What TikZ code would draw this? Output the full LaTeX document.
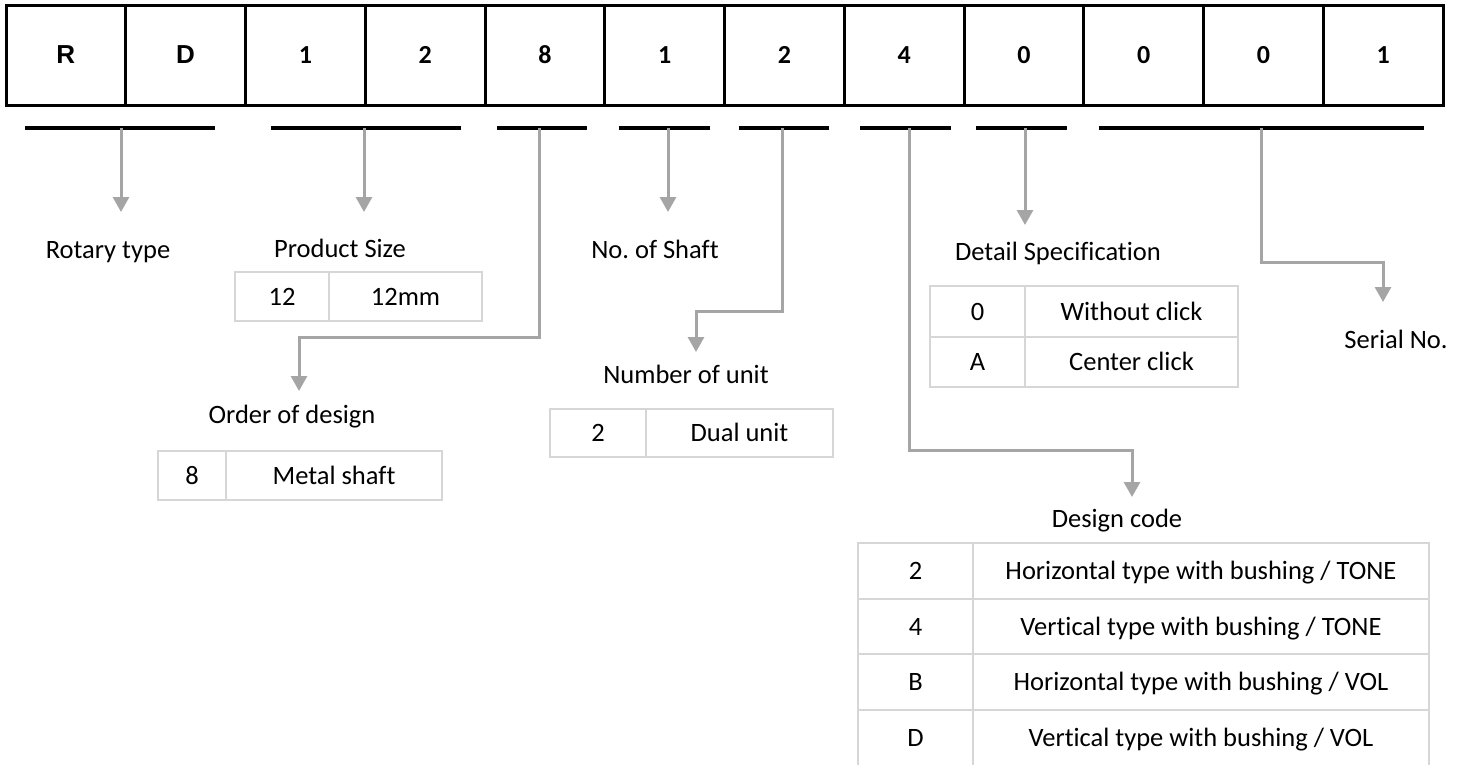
\documentclass[tikz,border=0pt]{standalone}
\usepackage{fontspec}
\setmainfont{Carlito}[Ligatures=NoCommon]
\newfontfamily\arialf{Liberation Sans}
\usetikzlibrary{arrows.meta}
\frenchspacing
\definecolor{conngray}{HTML}{A5A5A5}
\definecolor{tabgray}{HTML}{D6D6D6}
\tikzset{
  codecell/.style={draw=black, line width=3pt, minimum width=119.75pt, minimum height=100pt, inner sep=0pt, font=\fontsize{26}{30}\selectfont\bfseries},
  bar/.style={line width=4pt, black},
  conn/.style={draw=conngray, line width=3pt, -{Triangle[width=16pt,length=15pt]}},
  lbl/.style={anchor=base, inner sep=0pt, font=\fontsize{26.5}{31}\selectfont},
  tab/.style={draw=tabgray, line width=1.5pt},
  tcell/.style={anchor=center, inner sep=0pt, text height=17pt, text depth=0pt, font=\fontsize{26.5}{31}\selectfont},
}
\begin{document}
\begin{tikzpicture}[x=1pt,y=-1pt]
\useasboundingbox (0,0) rectangle (1460,764);
\fill[white] (0,0) rectangle (1460,764);

% code cells
\foreach \t [count=\i] in {{\arialf R},{\arialf D},1,2,8,1,2,4,0,0,0,1} {
  \node[codecell] (c\i) at ({6+119.75*(\i-0.5)},55) {\t};
}

% bars and stem points
\foreach \xa/\xb/\xs [count=\i] in {25/215/121, 271/461/364, 497/587/539, 619/710/668, 739/829/782, 860/951/909, 976/1067/1025, 1099/1424/1261} {
  \coordinate (bl\i) at (\xa,128);
  \coordinate (br\i) at (\xb,128);
  \coordinate (s\i) at (\xs,128);
  \draw[bar] (bl\i) -- (br\i);
}

% connector targets and corners
\coordinate (t1) at (121,212);
\coordinate (t2) at (364,212);
\coordinate (k3) at (299,337);
\coordinate (t3) at (299,391);
\coordinate (t4) at (668,212);
\coordinate (k5) at (696,311);
\coordinate (t5) at (696,352);
\coordinate (k6) at (1132,450);
\coordinate (t6) at (1132,497);
\coordinate (t7) at (1025,225);
\coordinate (k8) at (1383,262);
\coordinate (t8) at (1383,302);

\draw[conn] (s1) -- (t1);
\draw[conn] (s2) -- (t2);
\draw[conn] (s3) |- (k3) -- (t3);
\draw[conn] (s4) -- (t4);
\draw[conn] (s5) |- (k5) -- (t5);
\draw[conn] (s6) |- (k6) -- (t6);
\draw[conn] (s7) -- (t7);
\draw[conn] (s8) |- (k8) -- (t8);

% labels
\node[lbl] (lrot) at (108,258) {Rotary type};
\node[lbl] (lps) at (340,257) {Product Size};
\node[lbl] (lns) at (655,258) {No. of Shaft};
\node[lbl] (lds) at (1058,260) {Detail Specification};
\node[lbl] (lsn) at (1396,348) {Serial No.};
\node[lbl] (lod) at (292,423) {Order of design};
\node[lbl] (lnu) at (686,383) {Number of unit};
\node[lbl] (ldc) at (1117,527) {Design code};

% Product size table
\draw[tab] (235,272) rectangle (482,321);
\draw[tab] (329,272) -- (329,321);
\node[tcell] (ps1) at (282,296.5) {12};
\node[tcell] (ps2) at (405.5,296.5) {12mm};

% Order of design table
\draw[tab] (158,451) rectangle (442,500);
\draw[tab] (226,451) -- (226,500);
\node[tcell] (od1) at (192,475.5) {8};
\node[tcell] (od2) at (334,475.5) {Metal shaft};

% Number of unit table
\draw[tab] (550,409) rectangle (833,457);
\draw[tab] (646,409) -- (646,457);
\node[tcell] (nu1) at (598,433) {2};
\node[tcell] (nu2) at (739.5,433) {Dual unit};

% Detail specification table
\draw[tab] (930,286) rectangle (1238,387);
\draw[tab] (930,337) -- (1238,337);
\draw[tab] (1025,286) -- (1025,387);
\node[tcell] (ds1) at (977.5,311.5) {0};
\node[tcell] (ds2) at (1131.5,311.5) {Without click};
\node[tcell] (ds3) at (977.5,362) {A};
\node[tcell] (ds4) at (1131.5,362) {Center click};

% Design code table
\draw[tab] (858,770) -- (858,543) -- (1429,543) -- (1429,770);
\draw[tab] (858,599) -- (1429,599);
\draw[tab] (858,654) -- (1429,654);
\draw[tab] (858,710) -- (1429,710);
\draw[tab] (973,543) -- (973,770);
\node[tcell] (dc1) at (915.5,571) {2};
\node[tcell] (dc2) at (1201,571) {Horizontal type with bushing / TONE};
\node[tcell] (dc3) at (915.5,626.5) {4};
\node[tcell] (dc4) at (1201,626.5) {Vertical type with bushing / TONE};
\node[tcell] (dc5) at (915.5,682) {B};
\node[tcell] (dc6) at (1201,682) {Horizontal type with bushing / VOL};
\node[tcell] (dc7) at (915.5,738) {D};
\node[tcell] (dc8) at (1201,738) {Vertical type with bushing / VOL};
\end{tikzpicture}
\end{document}
